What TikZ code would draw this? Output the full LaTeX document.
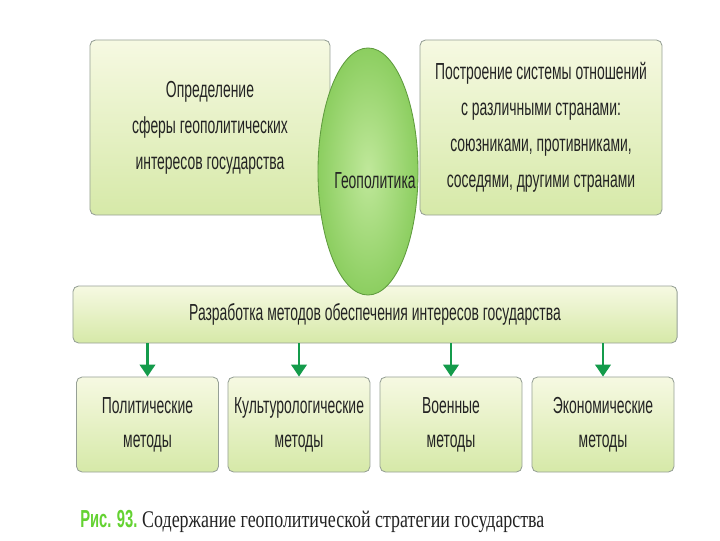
\documentclass[tikz,border=0pt]{standalone}
\usepackage{fontspec}
\usepackage{tikz}
\usetikzlibrary{arrows.meta,shapes.geometric}
\setmainfont{Liberation Serif}
\newfontfamily\narrowfont[FakeStretch=0.6]{Liberation Sans}
\newfontfamily\capserif[FakeStretch=0.75]{Liberation Serif}
\definecolor{boxtop}{RGB}{246,249,226}
\definecolor{boxbottom}{RGB}{214,233,168}
\definecolor{boxline}{RGB}{150,160,150}
\definecolor{eggfill}{RGB}{140,206,96}
\definecolor{eggcentre}{RGB}{192,232,155}
\definecolor{eggline}{RGB}{95,155,62}
\definecolor{arrowgreen}{RGB}{20,155,75}
\definecolor{figgreen}{RGB}{100,210,50}
\definecolor{ink}{RGB}{35,35,35}

\begin{document}
\begin{tikzpicture}[
        x=0.025cm, y=-0.025cm,
        block/.style={rectangle,rounded corners=4pt,draw=boxline,line width=0.6pt,
            top color=boxtop,bottom color=boxbottom,text=ink,align=center,
            font=\narrowfont\fontsize{16.5}{25.5}\selectfont},
        method/.style={block,minimum width=3.55cm,minimum height=2.375cm,
            font=\narrowfont\fontsize{16.5}{24}\selectfont},
        core/.style={ellipse,draw=eggline,line width=0.6pt,inner color=eggcentre,
            outer color=eggfill,minimum width=2.5cm,minimum height=6.175cm},
        down/.style={-{Triangle[length=8.5pt,width=11pt]},arrowgreen,line width=1.6pt}
    ]
    \useasboundingbox (0,0) rectangle (720,540);

    \node[block,minimum width=6cm,minimum height=4.375cm] (sphere) at (210,127.5)
        {Определение\\сферы геополитических\\интересов государства};
    \node[block,minimum width=6.05cm,minimum height=4.375cm] (relations) at (541,127.5)
        {Построение системы отношений\\с различными странами:\\союзниками, противниками,\\соседями, другими странами};

    \node[block,minimum width=15.1cm,minimum height=1.425cm] (methods) at (375,314.5)
        {Разработка методов обеспечения интересов государства};

    \node[core] (geo) at (368,171.5) {};
    \node[text=ink,font=\narrowfont\fontsize{16.5}{18}\selectfont] at (375,181) {Геополитика};

    \node[method] (polit) at (147.5,424.5) {Политические\\методы};
    \node[method] (cult) at (299,424.5) {Культурологические\\методы};
    \node[method] (mil) at (451,424.5) {Военные\\методы};
    \node[method] (econ) at (603,424.5) {Экономические\\методы};

    \foreach \m in {polit,cult,mil,econ}
        \draw[down] (methods.south -| \m.north) -- (\m.north);

    \node[anchor=base west,inner sep=0pt] (caption) at (80,527)
        {{\narrowfont\bfseries\fontsize{17.5}{20}\selectfont\color{figgreen}Рис. 93.}
         {\capserif\fontsize{17}{20}\selectfont\color{ink}Содержание геополитической стратегии государства}};

    \end{tikzpicture}
\end{document}
